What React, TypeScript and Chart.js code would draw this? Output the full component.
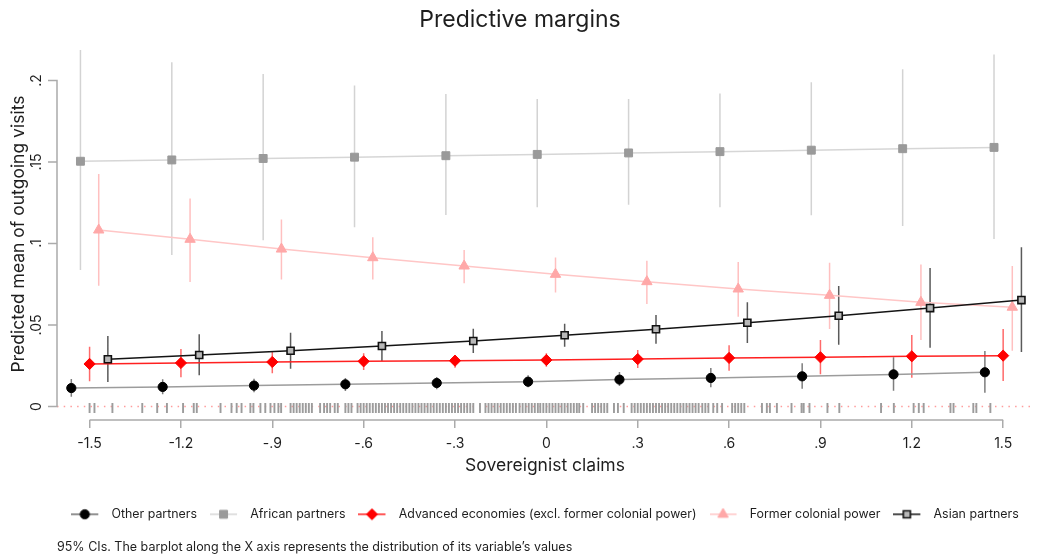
import React, { useEffect, useRef } from "react";
import { Chart, registerables } from "chart.js";

Chart.register(...registerables);

const FONT = "Inter, 'Noto Sans', 'DejaVu Sans', sans-serif";

const TITLE = "Predictive margins";
const X_TITLE = "Sovereignist claims";
const Y_TITLE = "Predicted mean of outgoing visits";
const NOTE =
  "95% CIs. The barplot along the X axis represents the distribution of its variable\u2019s values";

// x grid (values of "Sovereignist claims" at which margins are evaluated)
const X_GRID = [-1.5, -1.2, -0.9, -0.6, -0.3, 0, 0.3, 0.6, 0.9, 1.2, 1.5];
const X_TICK_LABELS = ["-1.5", "-1.2", "-.9", "-.6", "-.3", "0", ".3", ".6", ".9", "1.2", "1.5"];
const Y_TICKS = [0, 0.05, 0.1, 0.15, 0.2];
const Y_TICK_LABELS = ["0", ".05", ".1", ".15", ".2"];
const X_MIN = -1.607;
const X_MAX = 1.598;
const Y_MIN = -0.0083;
const Y_MAX = 0.22;

const SERIES_NAMES = [
  "Other partners",
  "African partners",
  "Advanced economies (excl. former colonial power)",
  "Former colonial power",
  "Asian partners",
];
// horizontal dodge of each series around the grid values
const SERIES_OFFSETS = [-0.06, -0.03, 0, 0.03, 0.06];

const OTHER_MEAN = [0.0113, 0.012, 0.0128, 0.0136, 0.0144, 0.0152, 0.0165, 0.0175, 0.0185, 0.0197, 0.021];
const OTHER_HI = [0.0169, 0.0167, 0.017, 0.0175, 0.0181, 0.0191, 0.0212, 0.0236, 0.0265, 0.0302, 0.034];
const OTHER_LO = [0.006, 0.0075, 0.0087, 0.0095, 0.0106, 0.0118, 0.0126, 0.0118, 0.0109, 0.0097, 0.0085];

const AFRICAN_MEAN = [0.1505, 0.1513, 0.1522, 0.153, 0.1539, 0.1547, 0.1556, 0.1564, 0.1573, 0.1582, 0.159];
const AFRICAN_HI = [0.2187, 0.2113, 0.204, 0.197, 0.1917, 0.1887, 0.1887, 0.192, 0.199, 0.207, 0.216];
const AFRICAN_LO = [0.0837, 0.093, 0.102, 0.11, 0.1175, 0.1222, 0.1238, 0.1222, 0.1173, 0.1107, 0.1028];

const ADVANCED_MEAN = [0.0261, 0.0267, 0.0273, 0.0277, 0.0281, 0.0285, 0.0291, 0.0298, 0.0302, 0.0308, 0.0312];
const ADVANCED_HI = [0.0367, 0.0353, 0.0336, 0.0326, 0.0316, 0.0326, 0.0347, 0.0375, 0.0408, 0.0439, 0.0476];
const ADVANCED_LO = [0.0155, 0.0179, 0.0204, 0.0224, 0.0238, 0.0244, 0.0236, 0.022, 0.0198, 0.0177, 0.0156];

const FORMER_MEAN = [0.1083, 0.1026, 0.0966, 0.0913, 0.0862, 0.0811, 0.0766, 0.0721, 0.0682, 0.0639, 0.0609];
const FORMER_HI = [0.1426, 0.1277, 0.1148, 0.1038, 0.096, 0.0915, 0.0895, 0.0887, 0.0882, 0.0872, 0.0862];
const FORMER_LO = [0.0741, 0.0764, 0.078, 0.078, 0.0756, 0.07, 0.0629, 0.0551, 0.0475, 0.0408, 0.0342];

const ASIAN_MEAN = [0.029, 0.0316, 0.0342, 0.0371, 0.0402, 0.0437, 0.0474, 0.0514, 0.0557, 0.0604, 0.0653];
const ASIAN_HI = [0.0433, 0.0443, 0.0453, 0.0463, 0.0477, 0.0508, 0.0561, 0.0639, 0.0739, 0.085, 0.0977];
const ASIAN_LO = [0.015, 0.0191, 0.0232, 0.0279, 0.0328, 0.0367, 0.0385, 0.039, 0.0379, 0.0361, 0.0334];

// rug: observed values of Sovereignist claims
const RUG = [
  -1.5, -1.484, -1.425, -1.327, -1.278, -1.246, -1.193, -1.158, -1.148, -1.07, -1.034, -1.017,
  -1.001, -0.972, -0.962, -0.939, -0.923, -0.906, -0.893, -0.88, -0.871,
  -0.84, -0.83, -0.82, -0.81, -0.8, -0.79, -0.78, -0.77,
  -0.743, -0.73, -0.72, -0.71, -0.695, -0.685, -0.66, -0.65, -0.64,
  -0.62, -0.61, -0.6, -0.59, -0.58, -0.57, -0.56, -0.55, -0.54, -0.53, -0.52, -0.51, -0.5,
  -0.49, -0.48, -0.47, -0.46, -0.45, -0.44, -0.43, -0.42, -0.41, -0.4, -0.39, -0.38, -0.37,
  -0.36, -0.35, -0.34, -0.33, -0.32, -0.31, -0.3, -0.29, -0.28, -0.27, -0.26, -0.25, -0.24,
  -0.218,
  -0.2, -0.19, -0.18, -0.17, -0.16, -0.15, -0.14, -0.13, -0.12, -0.11, -0.1,
  -0.088, -0.078, -0.068, -0.058, -0.048, -0.038, -0.028, -0.02,
  -0.01, 0.0, 0.01, 0.02, 0.03, 0.04,
  0.05, 0.06, 0.07, 0.08, 0.09, 0.1, 0.108,
  0.121,
  0.15, 0.16, 0.17, 0.18, 0.19, 0.2,
  0.222, 0.235, 0.254,
  0.28, 0.29, 0.3, 0.31, 0.32, 0.33, 0.34, 0.35, 0.36, 0.37, 0.38, 0.39, 0.4, 0.41, 0.42,
  0.43, 0.44, 0.45, 0.46, 0.47, 0.48, 0.49, 0.5,
  0.512, 0.522, 0.532, 0.548, 0.561, 0.577,
  0.61, 0.62, 0.63, 0.64, 0.65,
  0.708, 0.724, 0.734, 0.757, 0.805, 0.838, 0.845, 0.864, 0.923, 0.962, 1.099, 1.141, 1.206,
  1.223, 1.239, 1.327, 1.337, 1.402, 1.412, 1.458,
];

type Style = {
  line: string;
  legendLine: string;
  ci: string;
  shape: "circle" | "rect" | "rectRot" | "triangle";
  radius: number;
  fill: string;
  stroke: string;
  bw: number;
};

const STYLES: Style[] = [
  { line: "#9c9c9c", legendLine: "#6e6e6e", ci: "#7d7d7d", shape: "circle", radius: 4.6, fill: "#000000", stroke: "#000000", bw: 1 },
  { line: "#d6d6d6", legendLine: "#d6d6d6", ci: "#d3d3d3", shape: "rect", radius: 5.6, fill: "#9a9a9a", stroke: "#9a9a9a", bw: 1 },
  { line: "#ff2020", legendLine: "#ff2020", ci: "#ff6a6a", shape: "rectRot", radius: 5.6, fill: "#ff0000", stroke: "#ff0000", bw: 1 },
  { line: "#ffc6c6", legendLine: "#ffc6c6", ci: "#ffc0c0", shape: "triangle", radius: 6, fill: "#ffa8a8", stroke: "#ffa8a8", bw: 1 },
  { line: "#141414", legendLine: "#141414", ci: "#5a5a5a", shape: "rect", radius: 5, fill: "#b8b8b8", stroke: "#111111", bw: 1.6 },
];

const MEANS = [OTHER_MEAN, AFRICAN_MEAN, ADVANCED_MEAN, FORMER_MEAN, ASIAN_MEAN];
const HIS = [OTHER_HI, AFRICAN_HI, ADVANCED_HI, FORMER_HI, ASIAN_HI];
const LOS = [OTHER_LO, AFRICAN_LO, ADVANCED_LO, FORMER_LO, ASIAN_LO];

const AXIS_COLOR = "#ababab";
const TEXT_COLOR = "#1e1e1e";

function drawMarker(g: CanvasRenderingContext2D, s: Style, x: number, y: number) {
  const r = s.radius;
  g.beginPath();
  if (s.shape === "circle") {
    g.arc(x, y, r, 0, Math.PI * 2);
  } else if (s.shape === "rect") {
    const h = r * Math.SQRT1_2;
    g.rect(x - h, y - h, 2 * h, 2 * h);
  } else if (s.shape === "rectRot") {
    g.moveTo(x - r, y);
    g.lineTo(x, y - r);
    g.lineTo(x + r, y);
    g.lineTo(x, y + r);
    g.closePath();
  } else {
    let a = 0;
    g.moveTo(x + Math.sin(a) * r, y - Math.cos(a) * r);
    a += (2 * Math.PI) / 3;
    g.lineTo(x + Math.sin(a) * r, y - Math.cos(a) * r);
    a += (2 * Math.PI) / 3;
    g.lineTo(x + Math.sin(a) * r, y - Math.cos(a) * r);
    g.closePath();
  }
  g.fillStyle = s.fill;
  g.fill();
  g.lineWidth = s.bw;
  g.strokeStyle = s.stroke;
  g.stroke();
}

function legendIcon(s: Style): HTMLCanvasElement {
  const c = document.createElement("canvas");
  c.width = 34;
  c.height = 14;
  const g = c.getContext("2d")!;
  g.strokeStyle = s.legendLine;
  g.lineWidth = 1.5;
  g.beginPath();
  g.moveTo(0, 7);
  g.lineTo(27, 7);
  g.stroke();
  drawMarker(g, s, 13.5, 7);
  return c;
}

const decorPlugin = {
  id: "stataDecor",
  beforeDatasetsDraw(chart: any) {
    const { ctx, chartArea, scales } = chart;
    const x = scales.x;
    const y = scales.y;
    const y0 = y.getPixelForValue(0);
    ctx.save();
    // dotted reference line at 0
    ctx.strokeStyle = "#ff9c9c";
    ctx.lineWidth = 1.5;
    ctx.setLineDash([1.5, 5.2]);
    ctx.beginPath();
    ctx.moveTo(chartArea.left, y0);
    ctx.lineTo(chartArea.right, y0);
    ctx.stroke();
    ctx.setLineDash([]);
    // rug plot
    ctx.strokeStyle = "#9c9c9c";
    ctx.lineWidth = 1.9;
    ctx.beginPath();
    RUG.forEach((v) => {
      const px = x.getPixelForValue(v);
      ctx.moveTo(px, y0 - 3.5);
      ctx.lineTo(px, y0 + 6.5);
    });
    ctx.stroke();
    // confidence intervals
    chart.data.datasets.forEach((ds: any, i: number) => {
      if (!chart.isDatasetVisible(i)) return;
      ctx.strokeStyle = ds.ciColor;
      ctx.lineWidth = 1.5;
      ctx.beginPath();
      ds.data.forEach((p: any, j: number) => {
        const px = x.getPixelForValue(p.x);
        ctx.moveTo(px, y.getPixelForValue(ds.ciHi[j]));
        ctx.lineTo(px, y.getPixelForValue(ds.ciLo[j]));
      });
      ctx.stroke();
    });
    ctx.restore();
  },
  afterDraw(chart: any) {
    const { ctx, chartArea, scales } = chart;
    const x = scales.x;
    const y = scales.y;
    ctx.save();
    ctx.strokeStyle = AXIS_COLOR;
    ctx.lineWidth = 1.5;
    ctx.beginPath();
    // x axis line spans first to last tick
    ctx.moveTo(x.getPixelForValue(X_GRID[0]), chartArea.bottom);
    ctx.lineTo(x.getPixelForValue(X_GRID[X_GRID.length - 1]), chartArea.bottom);
    // y axis line spans first to last tick
    const yb = y.getPixelForValue(Y_TICKS[0]);
    const yt = y.getPixelForValue(Y_TICKS[Y_TICKS.length - 1]);
    ctx.moveTo(chartArea.left, yb + 0.75);
    ctx.lineTo(chartArea.left, yt - 0.75);
    Y_TICKS.forEach((v) => {
      const py = y.getPixelForValue(v);
      ctx.moveTo(chartArea.left - 9, py);
      ctx.lineTo(chartArea.left, py);
    });
    ctx.stroke();
    // rotated y tick labels
    ctx.fillStyle = TEXT_COLOR;
    ctx.font = `14px ${FONT}`;
    ctx.textAlign = "center";
    ctx.textBaseline = "middle";
    Y_TICKS.forEach((v, i) => {
      const py = y.getPixelForValue(v);
      ctx.save();
      ctx.translate(chartArea.left - 20, py);
      ctx.rotate(-Math.PI / 2);
      ctx.fillText(Y_TICK_LABELS[i], 0, 0);
      ctx.restore();
    });
    ctx.restore();
  },
};

export default function App() {
  const ref = useRef<HTMLCanvasElement>(null);

  useEffect(() => {
    const canvas = ref.current;
    if (!canvas) return;
    const icons = STYLES.map(legendIcon);

    const datasets = SERIES_NAMES.map((name, i) => {
      const s = STYLES[i];
      return {
        label: name,
        data: X_GRID.map((gx, j) => ({ x: gx + SERIES_OFFSETS[i], y: MEANS[i][j] })),
        ciHi: HIS[i],
        ciLo: LOS[i],
        ciColor: s.ci,
        borderColor: s.line,
        borderWidth: 1.5,
        tension: 0,
        fill: false,
        pointStyle: s.shape,
        pointRadius: s.radius,
        pointHoverRadius: s.radius,
        pointBackgroundColor: s.fill,
        pointBorderColor: s.stroke,
        pointBorderWidth: s.bw,
        order: SERIES_NAMES.length - 1 - i,
      };
    });

    const chart = new Chart(canvas, {
      type: "line",
      data: { datasets },
      plugins: [decorPlugin],
      options: {
        responsive: false,
        animation: false,
        events: [],
        layout: { padding: 0 },
        scales: {
          x: {
            type: "linear",
            min: X_MIN,
            max: X_MAX,
            afterBuildTicks: (s: any) => {
              s.ticks = X_GRID.map((v) => ({ value: v }));
            },
            afterFit: (s: any) => {
              s.height = 75.1;
            },
            ticks: {
              autoSkip: false,
              maxRotation: 0,
              minRotation: 0,
              padding: 7,
              color: TEXT_COLOR,
              font: { family: FONT, size: 14 },
              callback: (_v: any, i: number) => X_TICK_LABELS[i],
            },
            grid: {
              display: true,
              drawOnChartArea: false,
              drawTicks: true,
              tickLength: 8,
              color: AXIS_COLOR,
              lineWidth: 1.5,
            },
            border: { display: false },
            title: {
              display: true,
              text: X_TITLE,
              color: TEXT_COLOR,
              font: { family: FONT, size: 17.5 },
              padding: { top: 0, bottom: 18.6 },
            },
          },
          y: {
            type: "linear",
            min: Y_MIN,
            max: Y_MAX,
            afterBuildTicks: (s: any) => {
              s.ticks = Y_TICKS.map((v) => ({ value: v }));
            },
            afterFit: (s: any) => {
              s.width = 57;
            },
            ticks: { display: false },
            grid: { display: false },
            border: { display: false },
            title: {
              display: true,
              text: Y_TITLE,
              color: TEXT_COLOR,
              font: { family: FONT, size: 17.5 },
              padding: { top: 8.5, bottom: 0 },
            },
          },
        },
        plugins: {
          tooltip: { enabled: false },
          title: {
            display: true,
            text: TITLE,
            color: TEXT_COLOR,
            font: { family: FONT, size: 23, weight: "normal" },
            padding: { top: 6, bottom: 14.4 },
          },
          subtitle: {
            display: true,
            text: NOTE,
            position: "bottom",
            align: "start",
            fullSize: false,
            color: TEXT_COLOR,
            font: { family: FONT, size: 12.5 },
            padding: { top: 9, bottom: 5.5 },
          },
          legend: {
            display: true,
            position: "bottom",
            fullSize: false,
            labels: {
              usePointStyle: true,
              pointStyleWidth: 34,
              padding: 13,
              color: TEXT_COLOR,
              font: { family: FONT, size: 12.4 },
              generateLabels: (ch: any) =>
                ch.data.datasets.map((ds: any, i: number) => ({
                  text: ds.label,
                  pointStyle: icons[i],
                  fillStyle: "rgba(0,0,0,0)",
                  strokeStyle: "rgba(0,0,0,0)",
                  lineWidth: 0,
                  hidden: false,
                  datasetIndex: i,
                  fontColor: TEXT_COLOR,
                })),
            },
          },
        },
      },
    } as any);

    return () => chart.destroy();
  }, []);

  return (
    <div style={{ position: "fixed", left: 0, top: 0, width: 1040, height: 560, background: "#ffffff" }}>
      <canvas ref={ref} width={1040} height={560} style={{ display: "block", width: 1040, height: 560 }} />
    </div>
  );
}
